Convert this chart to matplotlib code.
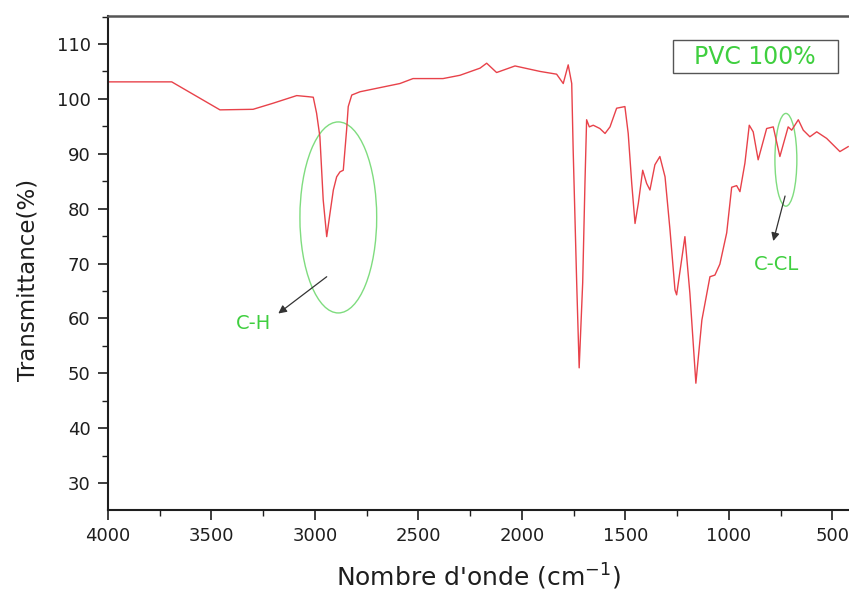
import matplotlib
matplotlib.use("Agg")
import matplotlib.pyplot as plt
from matplotlib.patches import Ellipse, Rectangle
from matplotlib.ticker import MultipleLocator

# FTIR spectrum of pure PVC
wavenumber = [
    4000, 3692, 3459, 3299, 3203, 3088, 3032, 3008, 2992, 2976, 2960, 2943,
    2927, 2911, 2895, 2879, 2863, 2847, 2839, 2822, 2782, 2589, 2526, 2381,
    2299, 2202, 2170, 2122, 2033, 1912, 1832, 1800, 1776, 1759, 1752, 1735,
    1723, 1706, 1695, 1687, 1674, 1655, 1623, 1598, 1574, 1542, 1502, 1486,
    1469, 1453, 1437, 1416, 1397, 1381, 1357, 1333, 1308, 1284, 1260, 1252,
    1212, 1188, 1159, 1130, 1091, 1067, 1043, 1010, 986, 962, 946, 922,
    901, 882, 858, 817, 785, 753, 713, 696, 664, 640, 608, 575, 527, 463, 423,
]
transmittance = [
    103.1, 103.1, 98.0, 98.1, 99.2, 100.6, 100.4, 100.3, 97.4, 93.1, 81.6, 74.9,
    79.2, 83.4, 85.8, 86.7, 87.0, 94.3, 98.6, 100.7, 101.3, 102.8, 103.7, 103.7,
    104.3, 105.6, 106.5, 104.8, 106.0, 105.0, 104.5, 102.8, 106.2, 102.8, 90.7, 66.5,
    51.0, 66.5, 84.7, 96.2, 94.9, 95.2, 94.6, 93.7, 94.9, 98.3, 98.6, 93.7,
    84.6, 77.3, 81.0, 87.0, 84.6, 83.4, 88.0, 89.5, 85.8, 76.1, 65.2, 64.3,
    74.9, 64.6, 48.2, 59.7, 67.6, 67.9, 69.9, 75.6, 83.9, 84.2, 83.1, 88.3,
    95.2, 94.0, 88.9, 94.6, 94.9, 89.5, 94.9, 94.3, 96.2, 94.3, 93.1, 94.0, 92.8, 90.4, 91.3,
]

x_ticks = [4000, 3500, 3000, 2500, 2000, 1500, 1000, 500]
y_ticks = [30, 40, 50, 60, 70, 80, 90, 100, 110]

# band assignments: label, ellipse centre/size, arrow start, arrow tip, label position
bands = [
    ("C-H", (2887, 78.4), 371, 34.8, (2943, 67.6), (3177, 60.9), (3298, 59.1)),
    ("C-CL", (724, 88.9), 106, 16.9, (728, 82.3), (785, 74.1), (769, 69.9)),
]

sample_label = "PVC 100%"

plt.rcParams["font.family"] = ["DejaVu Sans"]
plt.rcParams["mathtext.fontset"] = "dejavusans"

fig = plt.figure(figsize=(8.49, 6.01), dpi=100)
ax = fig.add_axes([108 / 849, 91 / 601, 741 / 849, 494 / 601])

red = "#e8424a"
green = "#3fcf3f"
ink = "#1e1e1e"

ax.plot(wavenumber, transmittance, color=red, lw=1.0)

ax.set_xlim(4000, 419)
ax.set_ylim(25.1, 115.1)
ax.set_xticks(x_ticks)
ax.set_yticks(y_ticks)
ax.xaxis.set_minor_locator(MultipleLocator(250))
ax.yaxis.set_minor_locator(MultipleLocator(5))

ax.tick_params(which="major", direction="out", length=7.5, width=1.2,
               labelsize=13, colors=ink, pad=5)
ax.tick_params(which="minor", direction="out", length=4.5, width=1.0, colors=ink)
ax.tick_params(top=False, right=False, which="both")

for side in ("left", "bottom"):
    ax.spines[side].set_linewidth(1.5)
    ax.spines[side].set_color(ink)
ax.spines["top"].set_linewidth(1.8)
ax.spines["top"].set_color("#555555")
ax.spines["right"].set_visible(False)

ax.set_xlabel("Nombre d'onde (cm$^{-1}$)", fontsize=18, color=ink)
ax.set_ylabel("Transmittance(%)", fontsize=16.5, color=ink)
ax.xaxis.set_label_coords(0.5, -0.105)
ax.yaxis.set_label_coords(-0.093, 0.466)

for label, centre, w, h, start, tip, pos in bands:
    ax.add_patch(Ellipse(centre, w, h, fill=False, edgecolor="#7fdc7f", lw=1.0))
    ax.annotate("", xy=tip, xytext=start,
                arrowprops=dict(arrowstyle="-|>", color="#333333", lw=0.9,
                                mutation_scale=12, shrinkA=0, shrinkB=0))
    ax.text(pos[0], pos[1], label, color=green, fontsize=14,
            ha="center", va="center")

ax.add_patch(Rectangle((0.762, 0.884), 0.223, 0.067, transform=ax.transAxes,
                       fill=False, edgecolor="#555555", lw=1.0))
ax.text(0.8735, 0.9175, sample_label, transform=ax.transAxes, color=green,
        fontsize=17, ha="center", va="center")

fig.savefig("out.png", dpi=100)
